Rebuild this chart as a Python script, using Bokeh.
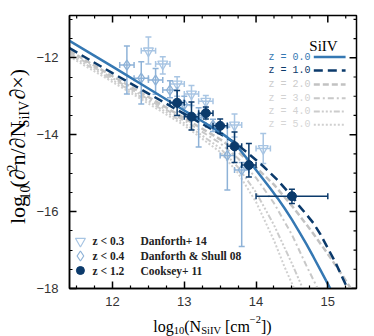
import math
from bokeh.plotting import figure
from bokeh.layouts import row, column
from bokeh.models import Range1d, FixedTicker, LinearAxis, Label
from bokeh.embed import file_html
from bokeh.resources import INLINE

# ---------------- data ----------------
# model curves (log10 N_SiIV, log10 f)
x_z0 = [11.4, 11.75, 12.0, 12.5, 13.0, 13.25, 13.5, 13.6, 13.7, 13.8, 13.9, 14.0, 14.1, 14.2, 14.3,
        14.4, 14.5, 14.6, 14.7, 14.8, 14.9, 15.0, 15.05]
y_z0 = [-11.56, -11.95, -12.23, -12.8, -13.37, -13.65, -13.94, -14.07, -14.23, -14.45, -14.68, -14.92,
        -15.16, -15.4, -15.65, -15.92, -16.21, -16.52, -16.84, -17.18, -17.53, -17.88, -18.06]

x_z1 = [11.4, 12.0, 12.5, 13.0, 13.5, 13.7, 13.9, 14.1, 14.3, 14.5, 14.6, 14.7, 14.8, 14.9, 15.0,
        15.1, 15.2, 15.29]
y_z1 = [-11.75, -12.4, -12.93, -13.46, -13.98, -14.2, -14.5, -14.82, -15.18, -15.6, -15.85, -16.07,
        -16.3, -16.6, -16.95, -17.3, -17.7, -18.06]

x_z2 = [11.4, 12.0, 12.5, 13.0, 13.5, 13.75, 14.0, 14.25, 14.5, 14.75, 15.0, 15.2, 15.35]
y_z2 = [-11.82, -12.48, -13.02, -13.57, -14.12, -14.45, -14.85, -15.3, -15.85, -16.45, -17.1, -17.65, -18.08]

x_z3 = [11.4, 12.0, 12.5, 13.0, 13.5, 13.75, 14.0, 14.25, 14.5, 14.7, 14.88]
y_z3 = [-11.87, -12.53, -13.08, -13.63, -14.22, -14.62, -15.12, -15.78, -16.6, -17.4, -18.08]

x_z4 = [11.4, 12.0, 12.5, 13.0, 13.5, 13.75, 14.0, 14.25, 14.5, 14.67]
y_z4 = [-11.92, -12.58, -13.13, -13.7, -14.35, -14.85, -15.5, -16.35, -17.35, -18.08]

x_z5 = [11.4, 12.0, 12.5, 13.0, 13.5, 13.75, 14.0, 14.25, 14.4, 14.55]
y_z5 = [-11.97, -12.63, -13.19, -13.76, -14.45, -15.0, -15.75, -16.75, -17.45, -18.08]

# Danforth+ 14 (open inverted triangles)
d14_x = [12.5, 12.7, 12.9, 13.1, 13.3, 13.7, 14.1]
d14_y = [-11.82, -12.16, -12.68, -12.94, -13.13, -13.75, -14.36]
d14_hi = [-11.46, -11.97, -12.49, -12.72, -12.98, -13.46, -13.97]
d14_lo = [-12.16, -12.42, -13.0, -13.24, -13.3, -14.06, -14.75]
d14_xe = [0.1, 0.1, 0.1, 0.1, 0.1, 0.1, 0.1]

# Danforth & Shull 08 (open diamonds)
ds08_x = [12.2, 12.4, 12.6, 12.8, 13.0, 13.2, 13.4, 13.6, 13.8]
ds08_y = [-12.19, -12.53, -12.58, -12.84, -13.22, -13.55, -13.75, -14.54, -14.92]
ds08_hi = [-11.69, -12.1, -12.28, -12.6, -13.0, -13.3, -13.6, -13.8, -14.72]
ds08_lo = [-12.94, -13.2, -12.95, -13.04, -13.45, -14.32, -13.92, -15.44, -16.91]
ds08_xe = [0.1, 0.1, 0.1, 0.1, 0.1, 0.1, 0.1, 0.1, 0.1]

# Cooksey+ 11 (filled circles)
c11_x = [12.9, 13.1, 13.3, 13.5, 13.7, 13.9, 14.5]
c11_y = [-13.17, -13.53, -13.44, -13.77, -14.3, -14.79, -15.6]
c11_hi = [-12.85, -13.15, -13.28, -13.59, -13.93, -14.23, -15.42]
c11_lo = [-13.5, -13.88, -13.59, -13.97, -14.72, -15.1, -15.79]
c11_xe = [0.1, 0.1, 0.1, 0.1, 0.1, 0.1, 0.5]

x_ticks = [12, 13, 14, 15]
x_minor = [11.5, 11.75, 12.25, 12.5, 12.75, 13.25, 13.5, 13.75, 14.25, 14.5, 14.75, 15.25]
y_ticks = [-18, -16, -14, -12]
y_minor = [-17.5, -17, -16.5, -15.5, -15, -14.5, -13.5, -13, -12.5, -11.5, -11]

legend_z = ["z = 0.0", "z = 1.0", "z = 2.0", "z = 3.0", "z = 4.0", "z = 5.0"]
legend_obs = [("z < 0.3", "Danforth+ 14"), ("z < 0.4", "Danforth & Shull 08"), ("z < 1.2", "Cooksey+ 11")]

# ---------------- styles / geometry ----------------
C0 = "#3578b3"
C1 = "#0b3a6b"
G2, G3, G4, G5 = "#c2c2c2", "#c8c8c8", "#cccccc", "#d0d0d0"
CTRI = "#a8c5e3"
CDIA = "#8eb2d7"
CCOOK = "#0b3a6b"
D1, D2, D3, D4, D5 = "9 5", "6 3", "6 3 2 3", "6 2 2 2 2 2 2 2", "2 2"

X0, X1, Y0, Y1 = 11.4, 15.4, -18.0, -10.9
TOTW, TOTH = 374, 336
YLW = 33                     # width of the y-title strip
MAINH = 314                  # height of main figure
MAINW = TOTW - YLW
BL, BR, BT, BB = 34, 18, 15, 26
FW, FH = MAINW - BL - BR, MAINH - BT - BB
PL, PT = YLW + BL, BT         # page coords of frame top-left
PB = PT + FH


def dx(px):
    return X0 + (px - PL) / FW * (X1 - X0)


def dy(py):
    return Y0 + (PB - py) / FH * (Y1 - Y0)


def sx(px):
    return px - PL


def sy(py):
    return PB - py


p = figure(width=MAINW, height=MAINH, output_backend="svg", toolbar_location=None,
           x_range=Range1d(X0, X1), y_range=Range1d(Y0, Y1),
           min_border_left=BL, min_border_right=BR, min_border_top=BT, min_border_bottom=BB,
           x_axis_location=None, y_axis_location=None)
p.grid.grid_line_color = None
p.outline_line_color = "black"
p.outline_line_width = 1.5
p.background_fill_color = "white"
p.border_fill_color = "white"

xt = FixedTicker(ticks=x_ticks, minor_ticks=x_minor)
yt = FixedTicker(ticks=y_ticks, minor_ticks=y_minor)


def style(ax):
    ax.major_tick_in = 7
    ax.major_tick_out = 0
    ax.minor_tick_in = 3
    ax.minor_tick_out = 0
    ax.axis_line_color = "black"
    ax.axis_line_width = 1.5
    ax.major_tick_line_color = "black"
    ax.major_tick_line_width = 1.5
    ax.minor_tick_line_color = "black"
    ax.minor_tick_line_width = 1.2
    ax.major_label_text_font = "Liberation Sans"
    ax.major_label_text_font_size = "13px"
    ax.major_label_text_color = "#333333"


bx = LinearAxis(ticker=xt)
style(bx)
bx.major_label_standoff = 8
lx = LinearAxis(ticker=yt)
style(lx)
lx.major_label_standoff = 11
lx.major_label_overrides = {t: "\u2212" + str(abs(t)) for t in y_ticks}
p.add_layout(bx, "below")
p.add_layout(lx, "left")

# mirrored ticks on the top and right edges
kx = (X1 - X0) / FW
ky = (Y1 - Y0) / FH
p.segment(x0=x_ticks, y0=[Y1] * len(x_ticks), x1=x_ticks, y1=[Y1 - 7 * ky] * len(x_ticks),
          line_color="black", line_width=1.5)
p.segment(x0=x_minor, y0=[Y1] * len(x_minor), x1=x_minor, y1=[Y1 - 3 * ky] * len(x_minor),
          line_color="black", line_width=1.2)
p.segment(x0=[X1] * len(y_ticks), y0=y_ticks, x1=[X1 - 7 * kx] * len(y_ticks), y1=y_ticks,
          line_color="black", line_width=1.5)
p.segment(x0=[X1] * len(y_minor), y0=y_minor, x1=[X1 - 3 * kx] * len(y_minor), y1=y_minor,
          line_color="black", line_width=1.2)

# ---------------- curves ----------------
p.line(x_z5, y_z5, line_color=G5, line_width=2, line_dash=D5)
p.line(x_z4, y_z4, line_color=G4, line_width=2, line_dash=D4)
p.line(x_z3, y_z3, line_color=G3, line_width=2, line_dash=D3)
p.line(x_z2, y_z2, line_color=G2, line_width=2.5, line_dash=D2)


# ---------------- observations ----------------
def errbars(xs, ys, lo, hi, xe, color, lw):
    p.segment(x0=xs, y0=lo, x1=xs, y1=hi, line_color=color, line_width=lw)
    xl = [a - e for a, e in zip(xs, xe)]
    xr = [a + e for a, e in zip(xs, xe)]
    p.segment(x0=xl, y0=ys, x1=xr, y1=ys, line_color=color, line_width=lw)
    p.scatter(x=xs, y=lo, marker="dash", size=6, line_color=color, line_width=lw)
    p.scatter(x=xs, y=hi, marker="dash", size=6, line_color=color, line_width=lw)
    p.scatter(x=xl, y=ys, marker="dash", angle=math.pi / 2, size=6, line_color=color, line_width=lw)
    p.scatter(x=xr, y=ys, marker="dash", angle=math.pi / 2, size=6, line_color=color, line_width=lw)


errbars(d14_x, d14_y, d14_lo, d14_hi, d14_xe, CTRI, 1.5)
p.scatter(x=d14_x, y=d14_y, marker="inverted_triangle", size=10, fill_color=None,
          line_color=CTRI, line_width=1.3)
errbars(ds08_x, ds08_y, ds08_lo, ds08_hi, ds08_xe, CDIA, 1.5)
p.scatter(x=ds08_x, y=ds08_y, marker="diamond", size=10, fill_color=None,
          line_color=CDIA, line_width=1.3)

p.line(x_z1, y_z1, line_color=C1, line_width=2.5, line_dash=D1)
p.line(x_z0, y_z0, line_color=C0, line_width=2.5)

errbars(c11_x, c11_y, c11_lo, c11_hi, c11_xe, CCOOK, 1.5)
p.scatter(x=c11_x, y=c11_y, marker="circle", size=9, fill_color=CCOOK, line_color=CCOOK)

# ---------------- legends ----------------
p.add_layout(Label(x=sx(321), y=sy(45), x_units="screen", y_units="screen", text="SiIV",
                   text_font="Liberation Serif", text_font_size="15px", text_color="black",
                   text_align="center", text_baseline="alphabetic"))
rows = [56.5, 70, 84, 97.7, 111, 124.3]
lstyles = [(C0, 2.5, None), (C1, 2.5, D1), (G2, 2.5, D2), (G3, 2, D3), (G4, 2, D4), (G5, 2, D5)]
tcols = [C0, C1, "#cccccc", "#d2d2d2", "#d2d2d2", "#d6d6d6"]
for lab, ry, (col, lw, dash), tc in zip(legend_z, rows, lstyles, tcols):
    p.add_layout(Label(x=sx(266), y=sy(ry), x_units="screen", y_units="screen", text=lab,
                       text_font="Liberation Mono", text_font_size="10px", text_color=tc,
                       text_align="left", text_baseline="middle"))
    kw = dict(line_color=col, line_width=lw)
    if dash:
        kw["line_dash"] = dash
    p.line([dx(313), dx(345)], [dy(ry), dy(ry)], **kw)

orows = [240.7, 255.5, 270]
p.scatter(x=[dx(78)], y=[dy(orows[0])], marker="inverted_triangle", size=10, fill_color=None,
          line_color=CTRI, line_width=1.2)
p.scatter(x=[dx(78)], y=[dy(orows[1])], marker="diamond", size=10, fill_color=None,
          line_color=CDIA, line_width=1.2)
p.scatter(x=[dx(78)], y=[dy(orows[2])], marker="circle", size=8, fill_color=CCOOK, line_color=CCOOK)
for (a, b), ry in zip(legend_obs, orows):
    for txt, px in ((a, 90), (b, 138)):
        p.add_layout(Label(x=sx(px), y=sy(ry), x_units="screen", y_units="screen", text=txt,
                           text_font="Liberation Serif", text_font_style="bold",
                           text_font_size="11.5px", text_color="#222222",
                           text_align="left", text_baseline="middle"))

# ---------------- axis titles (composite, with sub/superscripts) ----------------
TW = {'l': 278, 'o': 500, 'g': 500, '(': 333, ')': 333, 'n': 500, '/': 278, 'N': 722, 'S': 556,
      'i': 278, 'I': 333, 'V': 722, ' ': 250, '[': 333, ']': 333, 'c': 444, 'm': 778,
      '0': 500, '1': 500, '2': 500, '\u2212': 564, '\u00d7': 564, '\u2202': 494}


def tw(s, size):
    return sum(TW.get(ch, 500) for ch in s) * size / 1000.0


def strip(w, h):
    f = figure(width=w, height=h, output_backend="svg", toolbar_location=None,
               x_range=Range1d(0, w), y_range=Range1d(0, h), min_border=0,
               x_axis_location=None, y_axis_location=None)
    f.grid.grid_line_color = None
    f.outline_line_color = None
    f.background_fill_color = "white"
    f.border_fill_color = "white"
    return f


# x title strip: page y from MAINH to TOTH, page x from 0 to TOTW
XLH = TOTH - MAINH
xs_fig = strip(TOTW, XLH)
M, S = 16, 10.5
xparts = [("log", M, 0, 0), ("10", S, -4, 0), ("(N", M, 0, 0), ("SiIV", S, -4, 0),
          ("[cm", M, 0, 0.25 * M), ("\u22122", S, 7, 0), ("])", M, 0, 0)]
total = sum(tw(t, s) + g for t, s, _, g in xparts)
cx = 212 - total / 2
base_page = 326
for t, s, sh, g in xparts:
    cx += g
    xs_fig.add_layout(Label(x=cx, y=(TOTH - base_page) + sh, text=t,
                            text_font="Liberation Serif", text_font_size=f"{s}px", text_color="black",
                            text_align="left", text_baseline="alphabetic"))
    cx += tw(t, s)

# y title strip: page x 0..YLW, page y 0..MAINH ; pieces centred (baseline "middle")
ys_fig = strip(YLW, MAINH)
M2, S2 = 22, 14
XC = 17
yparts = [("log", M2, 0.0, 0), ("10", S2, 7.2, 0), ("(\u2202", M2, 0.0, 0), ("2", S2, -5.3, 0),
          ("n/\u2202N", M2, 0.0, 0), ("SiIV", S2, 7.2, 0), ("\u2202\u00d7)", M2, 0.0, 0.25 * M2)]
total = sum(tw(t, s) + g for t, s, _, g in yparts)
cy = 153 + total / 2      # page y of start (bottom)
for t, s, sh, g in yparts:
    cy -= g
    ys_fig.add_layout(Label(x=XC + sh, y=MAINH - cy, text=t, angle=math.pi / 2,
                            text_font="Liberation Serif", text_font_size=f"{s}px", text_color="black",
                            text_align="left", text_baseline="middle"))
    cy -= tw(t, s)

layout = column(row(ys_fig, p, spacing=0), xs_fig, spacing=0)
open("out.html", "w").write(file_html(layout, INLINE))
